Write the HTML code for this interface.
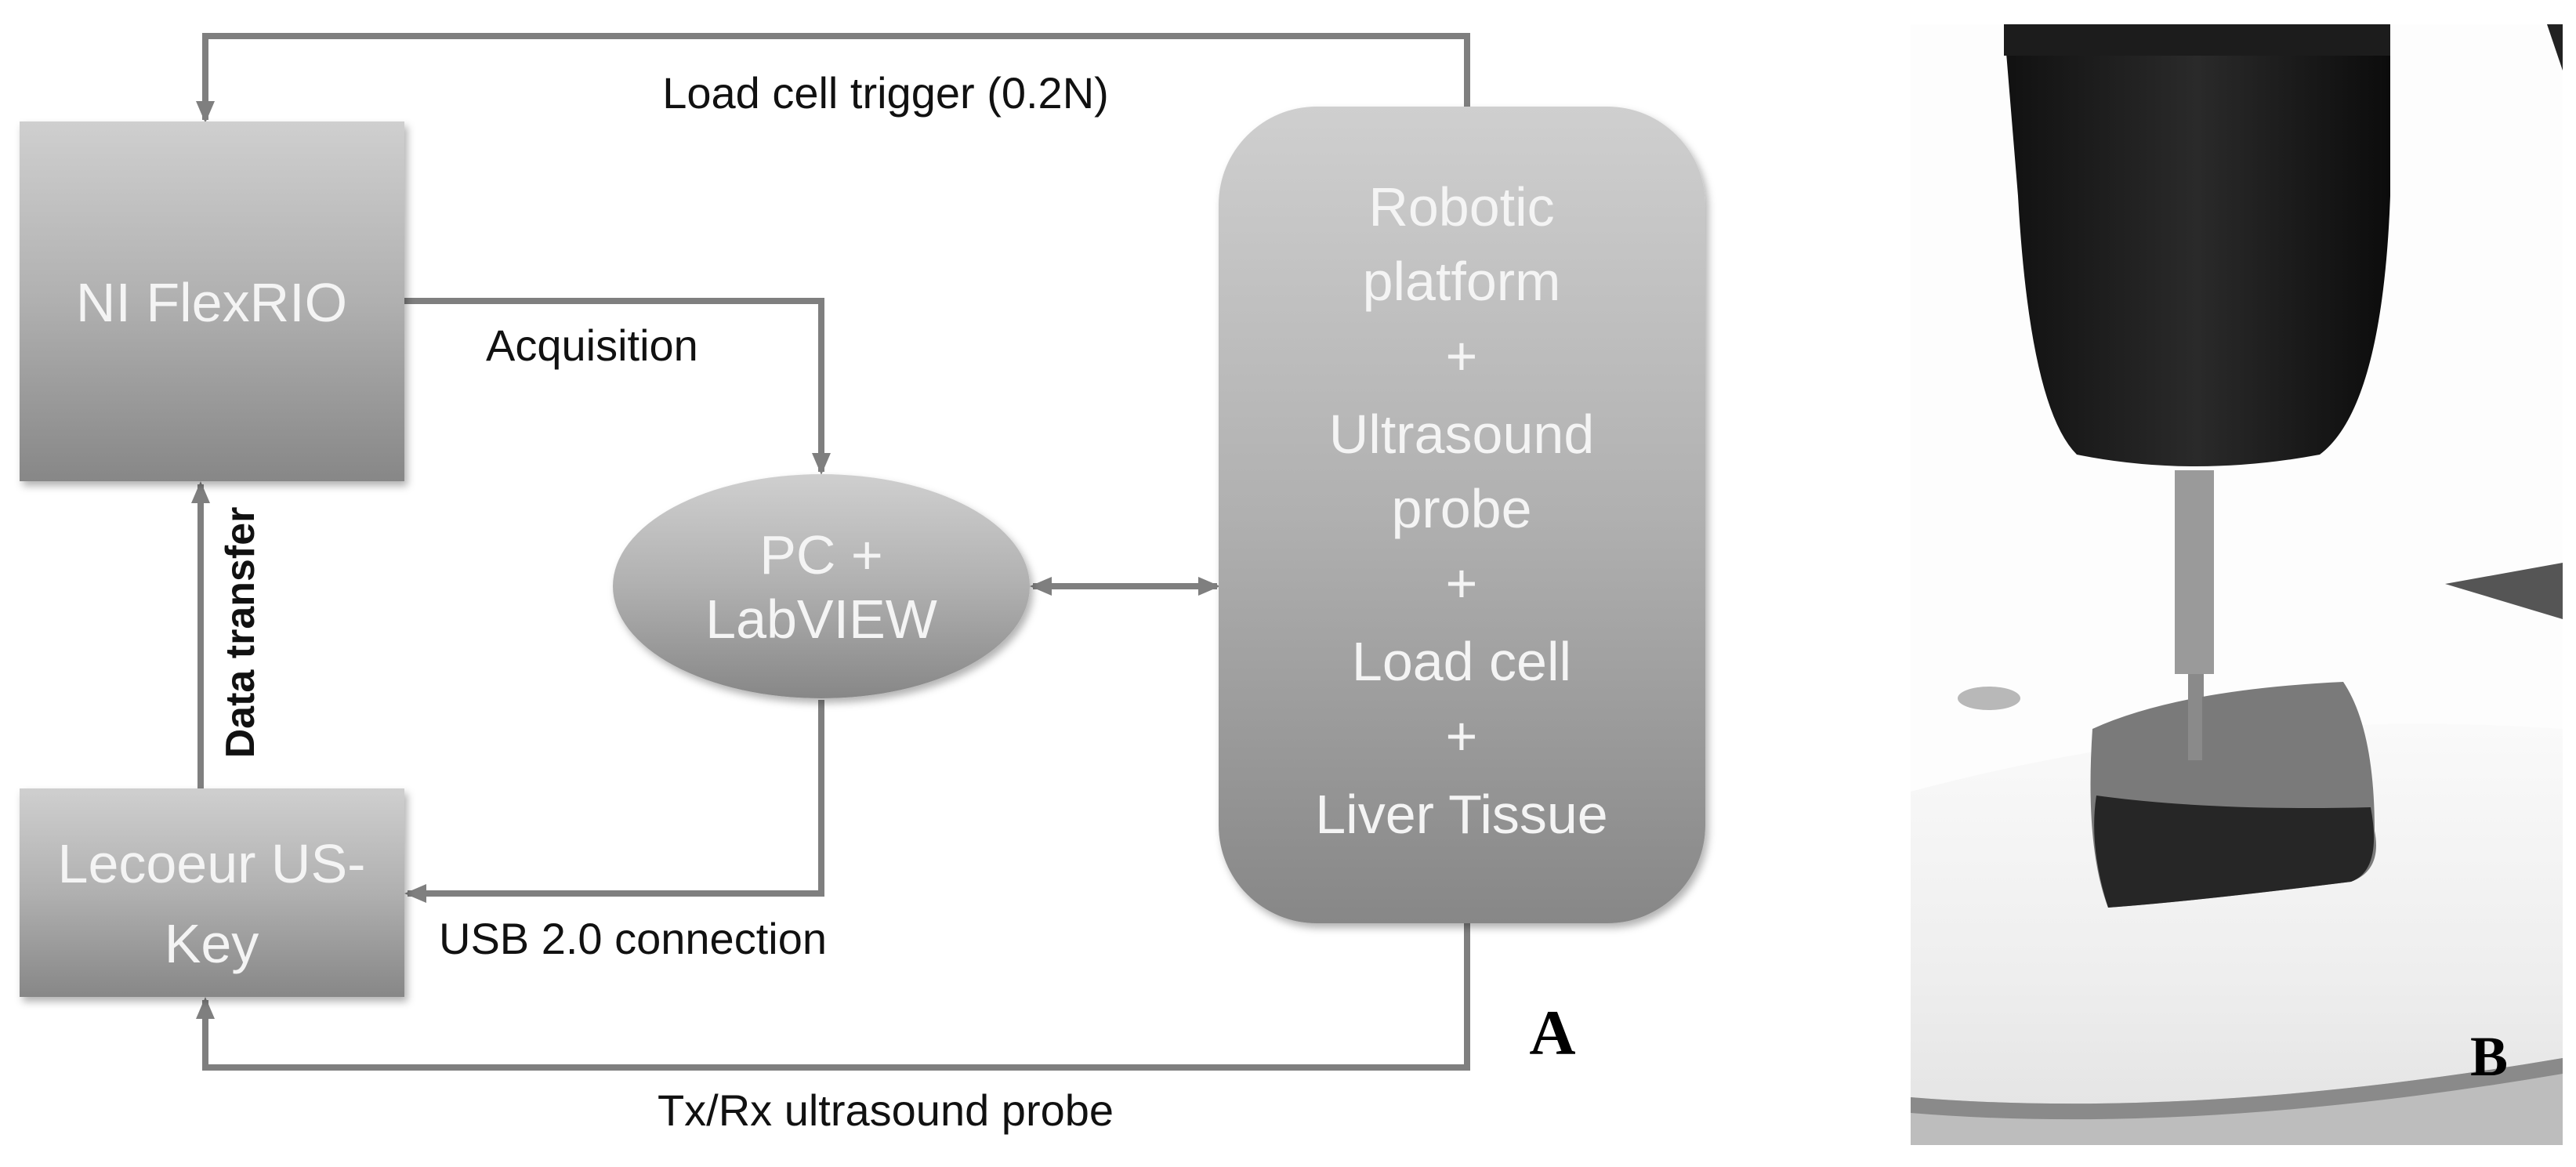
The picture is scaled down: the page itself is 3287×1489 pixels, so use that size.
<!DOCTYPE html>
<html><head><meta charset="utf-8"><style>
html,body{margin:0;padding:0;background:#fff;}
svg{display:block}
.s{font-family:"Liberation Sans",sans-serif}
.r{font-family:"Liberation Serif",serif;font-weight:bold}
</style></head><body>
<svg width="3287" height="1489" viewBox="0 0 3287 1489" xmlns="http://www.w3.org/2000/svg">
<defs>
<linearGradient id="g" x1="0" y1="0" x2="0" y2="1">
<stop offset="0" stop-color="#cfcfcf"/><stop offset="0.5" stop-color="#b0b0b0"/><stop offset="1" stop-color="#878787"/>
</linearGradient>
<linearGradient id="plat" x1="0" y1="0" x2="0" y2="1">
<stop offset="0" stop-color="#fafafa"/><stop offset="0.6" stop-color="#eeeeee"/><stop offset="1" stop-color="#e2e2e2"/>
</linearGradient>
<linearGradient id="drill" x1="0" y1="0" x2="1" y2="0">
<stop offset="0" stop-color="#111"/><stop offset="0.5" stop-color="#2a2a2a"/><stop offset="1" stop-color="#0c0c0c"/>
</linearGradient>
<marker id="ah" markerWidth="28" markerHeight="28" refX="24" refY="14" orient="auto" markerUnits="userSpaceOnUse">
<path d="M0,2 L28,14 L0,26 z" fill="#7f7f7f"/></marker>
<marker id="ahs" markerWidth="28" markerHeight="28" refX="4" refY="14" orient="auto" markerUnits="userSpaceOnUse">
<path d="M28,2 L0,14 L28,26 z" fill="#7f7f7f"/></marker>
<filter id="sh"><feDropShadow dx="4" dy="6" stdDeviation="5" flood-color="#000" flood-opacity="0.3"/></filter>
</defs>

<g fill="none" stroke="#7f7f7f" stroke-width="8">
<path d="M1872,136 V46 H262 V153" marker-end="url(#ah)"/>
<path d="M516,384 H1048 V602" marker-end="url(#ah)"/>
<path d="M1048,893 V1140 H520" marker-end="url(#ah)"/>
<path d="M256,1006 V618" marker-end="url(#ah)"/>
<path d="M1872,1178 V1362 H262 V1276" marker-end="url(#ah)"/>
<path d="M1318,748 H1553" marker-start="url(#ahs)" marker-end="url(#ah)"/>
</g>

<rect x="25" y="155" width="491" height="459" fill="url(#g)" filter="url(#sh)"/>
<rect x="25" y="1006" width="491" height="266" fill="url(#g)" filter="url(#sh)"/>
<rect x="1555" y="136" width="621" height="1042" rx="125" fill="url(#g)" filter="url(#sh)"/>
<ellipse cx="1048" cy="748" rx="266" ry="143" fill="url(#g)" filter="url(#sh)"/>

<g class="s" fill="#f4f4f4" font-size="70" text-anchor="middle">
<text x="270" y="410">NI FlexRIO</text>
<text x="270" y="1126">Lecoeur US-</text>
<text x="270" y="1228">Key</text>
<text x="1048" y="732">PC +</text>
<text x="1048" y="814">LabVIEW</text>
<text x="1865" y="288">Robotic</text>
<text x="1865" y="383">platform</text>
<text x="1865" y="478">+</text>
<text x="1865" y="578">Ultrasound</text>
<text x="1865" y="673">probe</text>
<text x="1865" y="768">+</text>
<text x="1865" y="868">Load cell</text>
<text x="1865" y="963">+</text>
<text x="1865" y="1063">Liver Tissue</text>
</g>

<g class="s" fill="#111" font-size="56">
<text x="1130" y="138" text-anchor="middle">Load cell trigger (0.2N)</text>
<text x="620" y="460">Acquisition</text>
<text x="560" y="1217">USB 2.0 connection</text>
<text x="1130" y="1436" text-anchor="middle">Tx/Rx ultrasound probe</text>
<text x="0" y="0" font-weight="bold" font-size="52" text-anchor="middle" transform="translate(324,807) rotate(-90)">Data transfer</text>
</g>
<text class="r" x="1981" y="1345" font-size="82" text-anchor="middle" fill="#000">A</text>

<!-- photo B -->
<g>
<rect x="2438" y="31" width="832" height="1430" fill="#fdfdfd"/>
<path d="M2438,1010 Q2850,900 3270,930 V1461 H2438 Z" fill="url(#plat)"/>
<path d="M2438,1400 Q2800,1430 3270,1350 V1461 H2438 Z" fill="#bdbdbd"/>
<path d="M2438,1400 Q2800,1430 3270,1350 V1370 Q2800,1450 2438,1420 Z" fill="#8a8a8a"/>
<ellipse cx="2538" cy="891" rx="40" ry="15" fill="#b8b8b8"/>
<path d="M3120,745 L3270,718 V790 Z" fill="#555"/>
<path d="M3250,31 L3270,31 V90 Z" fill="#222"/>
<path d="M2557,31 H3050 V250 Q3040,520 2960,580 Q2800,610 2650,580 Q2590,520 2575,250 Z" fill="url(#drill)"/>
<rect x="2557" y="31" width="493" height="40" fill="#1c1c1c"/>
<rect x="2775" y="600" width="50" height="260" fill="#9a9a9a"/>
<rect x="2792" y="860" width="20" height="110" fill="#8a8a8a"/>
<path d="M2670,930 Q2780,880 2990,870 Q3030,930 3030,1060 Q3040,1110 3000,1125 Q2800,1150 2690,1158 Q2660,1080 2670,930 Z" fill="#7a7a7a"/>
<path d="M2675,1015 Q2820,1035 3025,1030 Q3040,1110 3000,1125 Q2800,1150 2690,1158 Q2665,1080 2675,1015 Z" fill="#262626"/>
<rect x="2792" y="870" width="18" height="100" fill="#8a8a8a"/>
<text class="r" x="3176" y="1372" font-size="72" text-anchor="middle" fill="#000">B</text>
</g>
</svg>
</body></html>
